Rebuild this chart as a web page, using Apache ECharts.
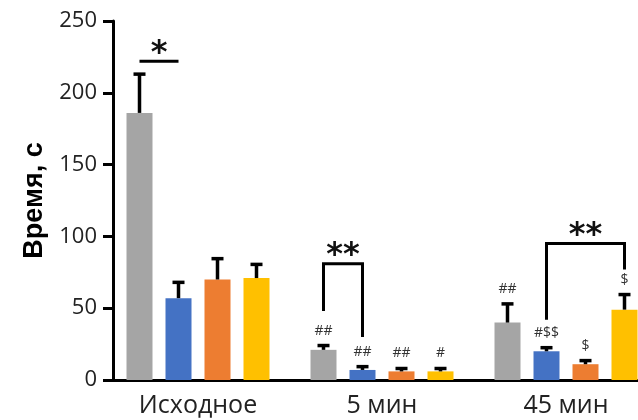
<!DOCTYPE html>
<html>
<head>
<meta charset="utf-8">
<script src="https://cdn.jsdelivr.net/npm/echarts@6/dist/echarts.min.js"></script>
<style>
  html, body { margin: 0; padding: 0; background: #fff; }
  #chart { width: 638px; height: 420px; }
</style>
</head>
<body>
<div id="chart"></div>
<script>
// Time (s) per group at three time points, mean and error
const categories = ['Исходное', '5 мин', '45 мин'];

const grayMean   = [186, 21, 40];
const grayErr    = [27, 3, 13];
const blueMean   = [57, 7, 20];
const blueErr    = [11, 2.3, 2.5];
const orangeMean = [70, 6, 11];
const orangeErr  = [14.5, 2, 2.5];
const yellowMean = [71, 6, 49];
const yellowErr  = [9.5, 2, 10.5];

// Significance marks printed above each error bar
const grayMarks   = ['', '##', '##'];
const blueMarks   = ['', '##', '#$$'];
const orangeMarks = ['', '##', '$'];
const yellowMarks = ['', '#', '$'];

// Between-group comparisons: category, first/second series, bracket height and feet
const bracketGroup = [0, 1, 2];
const bracketFrom  = [0, 0, 1];
const bracketTo    = [1, 1, 3];
const bracketTop   = [222, 81, 95];
const bracketLeftFoot  = [null, 48, 42];
const bracketRightFoot = [null, 30, 77];
const bracketText  = ['*', '**', '**'];

const yMin = 0, yMax = 250, yStep = 50;

const colors = ['#A5A5A5', '#4472C4', '#ED7D31', '#FFC000'];
const BAR_W = 26;
const BAR_STEP = 39; // bar width + gap
function barOffset(k) { return (k - 1.5) * BAR_STEP; }

const chart = echarts.init(document.getElementById('chart'), null, { renderer: 'canvas' });

const means = [grayMean, blueMean, orangeMean, yellowMean];
const errs = [grayErr, blueErr, orangeErr, yellowErr];
const marks = [grayMarks, blueMarks, orangeMarks, yellowMarks];

const barSeries = means.map((m, k) => ({
  type: 'bar',
  data: m,
  barWidth: BAR_W,
  barGap: '50%',
  itemStyle: { color: colors[k] },
  silent: true,
  z: 2
}));

const errSeries = means.map((m, k) => ({
  type: 'custom',
  silent: true,
  z: 5,
  data: m.map((v, i) => [i, v, v + errs[k][i]]),
  renderItem: function (params, api) {
    const i = api.value(0);
    const x = api.coord([i, 0])[0] + barOffset(k);
    const yBase = api.coord([i, api.value(1)])[1];
    const yTop = api.coord([i, api.value(2)])[1];
    const children = [
      { type: 'line', shape: { x1: x, y1: yBase, x2: x, y2: yTop },
        style: { stroke: '#000', lineWidth: 3.5 } },
      { type: 'line', shape: { x1: x - 6, y1: yTop, x2: x + 6, y2: yTop },
        style: { stroke: '#000', lineWidth: 3.5 } }
    ];
    const t = marks[k][params.dataIndex];
    if (t) {
      children.push({ type: 'text', style: {
        text: t, x: x, y: yTop - 15, align: 'center', verticalAlign: 'middle',
        fill: '#333', font: '14px "Open Sans"' } });
    }
    return { type: 'group', children: children };
  }
}));

const bracketSeries = {
  type: 'custom',
  silent: true,
  z: 6,
  data: bracketGroup.map((g, i) => [g, bracketTop[i]]),
  renderItem: function (params, api) {
    const n = params.dataIndex;
    const g = api.value(0);
    const cx = api.coord([g, 0])[0];
    const x1 = cx + barOffset(bracketFrom[n]);
    const x2 = cx + barOffset(bracketTo[n]);
    const yTop = api.coord([g, api.value(1)])[1];
    let points;
    if (bracketLeftFoot[n] == null) {
      points = [[x1, yTop], [x2, yTop]];
    } else {
      points = [
        [x1, api.coord([g, bracketLeftFoot[n]])[1]],
        [x1, yTop], [x2, yTop],
        [x2, api.coord([g, bracketRightFoot[n]])[1]]
      ];
    }
    return { type: 'group', children: [
      { type: 'polyline', shape: { points: points },
        style: { stroke: '#000', lineWidth: 3, fill: null, lineJoin: 'miter' } },
      { type: 'text', style: {
        text: bracketText[n], x: (x1 + x2) / 2, y: yTop - 8,
        align: 'center', verticalAlign: 'middle',
        fill: '#111', font: 'bold 32px "DejaVu Sans"' } }
    ] };
  }
};

chart.setOption({
  animation: false,
  backgroundColor: '#fff',
  grid: { left: 106, top: 21, width: 552, height: 359, containLabel: false, outerBoundsMode: 'none' },
  xAxis: {
    type: 'category',
    data: categories,
    axisLine: { lineStyle: { color: '#000', width: 3 } },
    axisTick: { alignWithLabel: true, length: 10, lineStyle: { color: '#000', width: 3 } },
    axisLabel: { color: '#222', fontFamily: 'Open Sans', fontSize: 25, margin: 13 },
    splitLine: { show: false }
  },
  yAxis: {
    type: 'value',
    min: yMin, max: yMax, interval: yStep,
    offset: -7,
    name: 'Время, с',
    nameLocation: 'middle',
    nameGap: 60,
    nameRotate: 90,
    nameTextStyle: { color: '#000', fontFamily: 'Liberation Sans', fontWeight: 'bold', fontSize: 27 },
    axisLine: { show: true, lineStyle: { color: '#000', width: 3 } },
    axisTick: { show: true, length: 10, lineStyle: { color: '#000', width: 3 } },
    axisLabel: { color: '#222', fontFamily: 'Open Sans', fontSize: 22, margin: 16 },
    splitLine: { show: false }
  },
  series: [...barSeries, ...errSeries, bracketSeries]
});
</script>
</body>
</html>
